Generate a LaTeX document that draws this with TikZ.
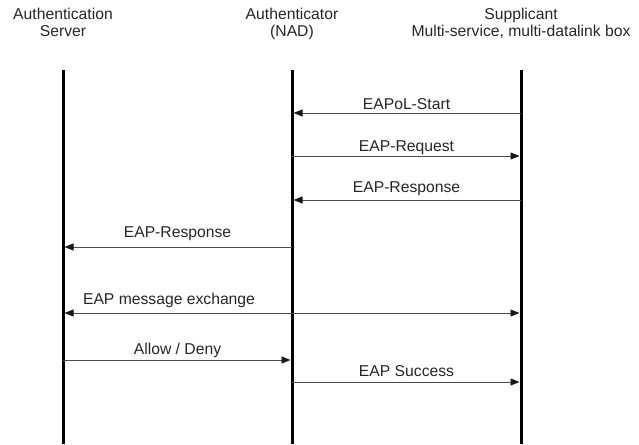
\documentclass[tikz,border=0pt]{standalone}
\usepackage{fontspec}
\setmainfont{Liberation Sans}
\usetikzlibrary{arrows.meta}
\begin{document}
\begin{tikzpicture}[x=1pt,y=-1pt,
  life/.style={line width=3pt, black},
  tipst/.style={},
  msg/.style={line width=0.9pt, draw=black!70, -{Triangle[length=9pt,width=7pt,color=black!90]}, shorten >=1.5pt},
  dmsg/.style={line width=0.9pt, draw=black!70, {Triangle[length=9pt,width=7pt,color=black!90]}-{Triangle[length=9pt,width=7pt,color=black!90]}, shorten >=1.5pt, shorten <=1.5pt},
  lbl/.style={anchor=base, font=\fontsize{15.7}{17}\selectfont, text=black!85, inner sep=0pt},
  head/.style={anchor=base, align=center, font=\fontsize{15.7}{17}\selectfont, text=black!85, inner sep=0pt}]
\useasboundingbox (0,0) rectangle (639,444);
% lifeline x positions
\coordinate (as) at (63,0);
\coordinate (nad) at (292,0);
\coordinate (sup) at (521,0);
% headers (anchor = baseline of the last line)
\node[head] (hAS) at (63,37) {Authentication\\Server};
\node[head] (hNAD) at (292,37) {Authenticator\\(NAD)};
\node[head] (hSUP) at (521,37) {Supplicant\\Multi-service, multi-datalink box};
% lifelines
\coordinate (asTop) at (63,70);   \coordinate (asBot) at (63,444);
\coordinate (nadTop) at (292,70); \coordinate (nadBot) at (292,444);
\coordinate (supTop) at (521,70); \coordinate (supBot) at (521,444);
\draw[life] (asTop) -- (asBot);
\draw[life] (nadTop) -- (nadBot);
\draw[life] (supTop) -- (supBot);
% message rows
\coordinate (m1) at (0,113);
\coordinate (m2) at (0,156);
\coordinate (m3) at (0,200);
\coordinate (m4) at (0,247);
\coordinate (m5) at (0,313);
\coordinate (m6) at (0,360);
\coordinate (m7) at (0,382);
% messages
\draw[msg] (sup|-m1) -- (nad|-m1);
\node[lbl] (l1) at (406.5,109) {EAPoL-Start};
\draw[msg] (nad|-m2) -- (sup|-m2);
\node[lbl] (l2) at (406.5,151) {EAP-Request};
\draw[msg] (sup|-m3) -- (nad|-m3);
\node[lbl] (l3) at (406.5,192) {EAP-Response};
\draw[msg] (nad|-m4) -- (as|-m4);
\node[lbl] (l4) at (177.5,237) {EAP-Response};
\draw[dmsg] (as|-m5) -- (sup|-m5);
\node[lbl] (l5) at (169,304) {EAP message exchange};
\draw[msg] (as|-m6) -- (nad|-m6);
\node[lbl] (l6) at (177.5,354) {Allow / Deny};
\draw[msg] (nad|-m7) -- (sup|-m7);
\node[lbl] (l7) at (406.5,376) {EAP Success};
\end{tikzpicture}
\end{document}
